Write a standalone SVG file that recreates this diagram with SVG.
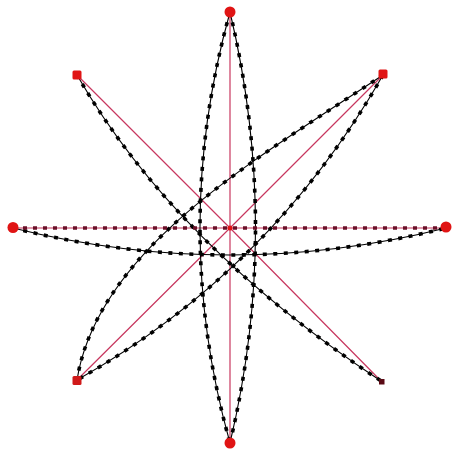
<svg xmlns="http://www.w3.org/2000/svg" xmlns:xlink="http://www.w3.org/1999/xlink" width="453" height="456" viewBox="0 0 453 456">
<style>
.ray{stroke:#c8375f;stroke-width:1.2;fill:none}
.wire{stroke:#000;stroke-width:1.1;fill:none}
.dots{stroke:#000;stroke-width:3.6;fill:none;stroke-dasharray:4 6.5}
.dots2{stroke:#6a1028;stroke-width:3.6;fill:none;stroke-dasharray:4 6}
.nd{fill:#e01414}
</style>
<defs>
<path id="e1" d="M230,12 Q170,228 230,443"/>
<path id="e2" d="M230,12 Q281,228 230,443"/>
<path id="e3" d="M13,228 Q230,282 446,228"/>
<path id="e4" d="M383,75 C258,158 98,248 77,380"/>
<path id="e5" d="M383,75 Q271,271 77,380"/>
<path id="e6" d="M77,75 Q175,245 381,381"/>
<path id="e7" d="M13,228 L446,228"/>
</defs>
<rect width="453" height="456" fill="#fff"/>
<g id="rays">
<path class="ray" d="M230,228 L230,12 M230,228 L230,443 M230,228 L13,228 M230,228 L446,228 M230,228 L77,75 M230,228 L383,75 M230,228 L77,380 M230,228 L381,381"/>
</g>
<g id="connectors">
<use xlink:href="#e1" class="wire"/><use xlink:href="#e1" class="dots"/>
<use xlink:href="#e2" class="wire"/><use xlink:href="#e2" class="dots"/>
<use xlink:href="#e3" class="wire"/><use xlink:href="#e3" class="dots"/>
<use xlink:href="#e4" class="wire"/><use xlink:href="#e4" class="dots"/>
<use xlink:href="#e5" class="wire"/><use xlink:href="#e5" class="dots"/>
<use xlink:href="#e6" class="wire"/><use xlink:href="#e6" class="dots"/>
<use xlink:href="#e7" class="dots2"/>
</g>
<g id="n-center"><circle cx="230" cy="228" r="2.5" fill="#e01414"/></g>
<g id="n-top"><circle class="nd" cx="230" cy="12" r="5.5"/></g>
<g id="n-bottom"><circle class="nd" cx="230" cy="443" r="5.5"/></g>
<g id="n-left"><circle class="nd" cx="13" cy="227.5" r="5.5"/></g>
<g id="n-right"><circle class="nd" cx="446" cy="227" r="5.5"/></g>
<g id="n-tl"><rect class="nd" x="72.5" y="70.5" width="9" height="9" rx="1.5"/></g>
<g id="n-tr"><rect class="nd" x="378.5" y="69.5" width="9" height="9" rx="1.5"/></g>
<g id="n-bl"><rect x="72.5" y="376" width="9" height="9" rx="1.5" fill="#d01a1a"/></g>
<g id="n-br"><rect x="379" y="379" width="5.5" height="5.5" fill="#5a0a14"/></g>
</svg>
